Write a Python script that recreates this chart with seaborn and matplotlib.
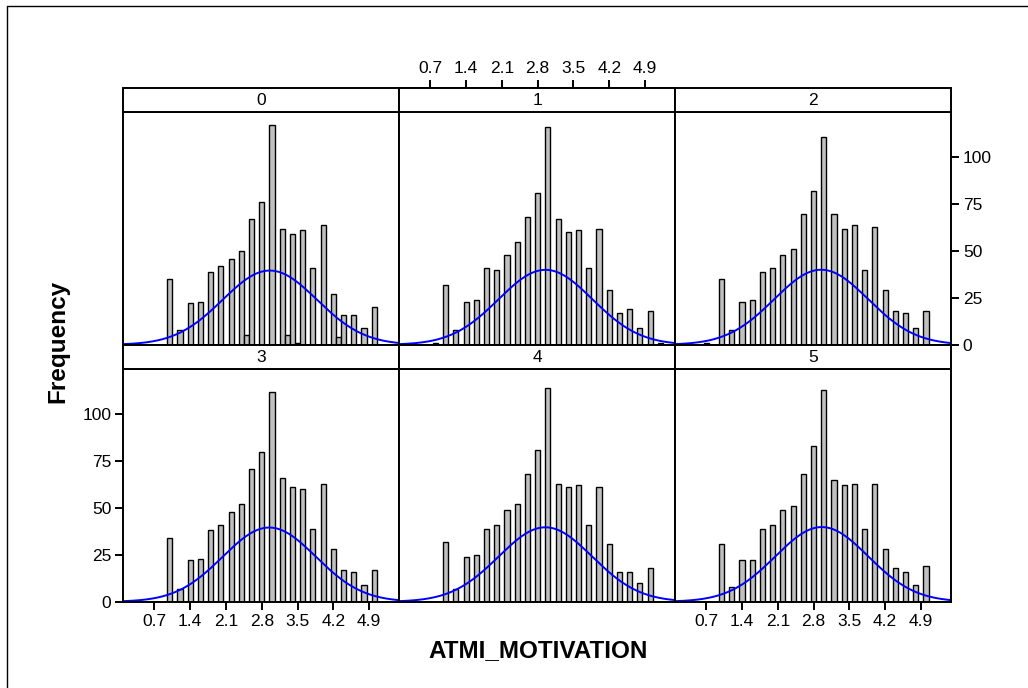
import numpy as np
import pandas as pd
import matplotlib
matplotlib.use("Agg")
import matplotlib.pyplot as plt
from matplotlib.patches import Rectangle
from matplotlib.lines import Line2D
import seaborn as sns

# ---------------- data ----------------
groups = ["0", "1", "2", "3", "4", "5"]

scores = [1.0, 1.2, 1.4, 1.6, 1.8, 2.0, 2.2, 2.4, 2.6, 2.8, 3.0,
          3.2, 3.4, 3.6, 3.8, 4.0, 4.2, 4.4, 4.6, 4.8, 5.0]

freq_g0 = [35, 8, 22, 23, 39, 42, 46, 50, 67, 76, 117, 62, 59, 61, 41, 64, 27, 16, 16, 9, 20]
freq_g1 = [32, 8, 23, 24, 41, 40, 48, 55, 68, 81, 116, 67, 60, 61, 41, 62, 29, 17, 19, 9, 18]
freq_g2 = [35, 8, 23, 24, 39, 41, 48, 51, 70, 82, 111, 70, 62, 64, 40, 63, 29, 18, 17, 9, 18]
freq_g3 = [34, 7, 22, 23, 38, 41, 48, 52, 71, 80, 112, 66, 61, 60, 39, 63, 28, 17, 16, 9, 17]
freq_g4 = [32, 7, 24, 25, 39, 41, 49, 52, 68, 81, 114, 63, 61, 62, 41, 61, 31, 16, 16, 10, 18]
freq_g5 = [31, 8, 22, 22, 39, 41, 49, 51, 68, 83, 113, 65, 62, 63, 39, 63, 28, 18, 16, 9, 19]

# small extra bars seen in some panels
extra_scores_g0 = [2.5, 3.3, 3.5, 4.3]
extra_freq_g0 = [5, 5, 1, 4]
extra_scores_g1 = [0.8, 5.2]
extra_freq_g1 = [1, 1]
extra_scores_g2 = [0.7]
extra_freq_g2 = [1]

x_ticks = [0.7, 1.4, 2.1, 2.8, 3.5, 4.2, 4.9]
x_tick_labels = ["0.7", "1.4", "2.1", "2.8", "3.5", "4.2", "4.9"]
y_ticks = [0, 25, 50, 75, 100]
y_tick_labels = ["0", "25", "50", "75", "100"]
x_label = "ATMI_MOTIVATION"
y_label = "Frequency"

# ---------------- build table ----------------
main_freqs = [freq_g0, freq_g1, freq_g2, freq_g3, freq_g4, freq_g5]
extra_scores = [extra_scores_g0, extra_scores_g1, extra_scores_g2, [], [], []]
extra_freqs = [extra_freq_g0, extra_freq_g1, extra_freq_g2, [], [], []]

rows = []
for grp, f, es, ef in zip(groups, main_freqs, extra_scores, extra_freqs):
    for s, c in zip(scores + es, f + ef):
        rows.append({"group": grp, "score": s, "freq": c})
df = pd.DataFrame(rows)

# ---------------- style ----------------
sns.set_theme(style="white")
plt.rcParams['font.family'] = ['Liberation Sans', 'DejaVu Sans']

BIN_W = 0.1
XLIM = (0.09, 5.49)
YLIM = (0, 124)
LW = 1.4
TICK_FS = 12.5

g = sns.FacetGrid(df, col="group", col_wrap=3, col_order=groups,
                  sharex=False, sharey=False, despine=False,
                  height=3, aspect=1.2)
g.map_dataframe(sns.histplot, x="score", weights="freq", binwidth=BIN_W,
                binrange=(0.05, 5.35),
                color="#c0c0c0", edgecolor="black", linewidth=1.0, alpha=1)

fig = g.figure
fig.set_size_inches(10.28, 6.88)

strip_px = 24.5
axes_h_px = 232.0
strip_frac = strip_px / axes_h_px

for i, grp in enumerate(groups):
    ax = g.axes_dict[grp]
    sub = df[df["group"] == grp]
    n = sub["freq"].sum()
    mean = np.average(sub["score"], weights=sub["freq"])
    sd = np.sqrt(np.average((sub["score"] - mean) ** 2, weights=sub["freq"]))
    xs = np.linspace(XLIM[0], XLIM[1], 300)
    ys = n * BIN_W * np.exp(-0.5 * ((xs - mean) / sd) ** 2) / (sd * np.sqrt(2 * np.pi))
    sns.lineplot(x=xs, y=ys, ax=ax, color="#0000ff", linewidth=1.4)

    ax.set_xlim(*XLIM)
    ax.set_ylim(*YLIM)
    ax.set_xticks(x_ticks)
    ax.set_xticklabels(x_tick_labels)
    ax.set_yticks(y_ticks)
    ax.set_yticklabels(y_tick_labels)
    ax.set_xlabel("")
    ax.set_ylabel("")
    ax.set_title("")
    for sp in ax.spines.values():
        sp.set_color("black")
        sp.set_linewidth(LW)
    ax.tick_params(axis="both", which="both", bottom=False, top=False,
                   left=False, right=False, labelbottom=False, labeltop=False,
                   labelleft=False, labelright=False, length=5.5, width=LW,
                   direction="out", labelsize=TICK_FS, pad=3, colors="black")
    if i == 1:
        ax.tick_params(axis="x", top=True, labeltop=True)
        ax.spines["top"].set_position(("outward", strip_px * 72 / 100))
    if i == 2:
        ax.tick_params(axis="y", right=True, labelright=True)
    if i == 3:
        ax.tick_params(axis="y", left=True, labelleft=True)
        ax.tick_params(axis="x", bottom=True, labelbottom=True)
    if i == 5:
        ax.tick_params(axis="x", bottom=True, labelbottom=True)

    ax.add_patch(Rectangle((0, 1), 1, strip_frac, transform=ax.transAxes,
                           clip_on=False, facecolor="white", edgecolor="black",
                           linewidth=LW, zorder=5))
    ax.text(0.5, 1 + strip_frac / 2, grp, transform=ax.transAxes,
            ha="center", va="center", fontsize=TICK_FS, color="black", zorder=6)

fig.subplots_adjust(left=123.3 / 1028, right=951 / 1028,
                    top=1 - 112.3 / 688, bottom=1 - 601.7 / 688,
                    wspace=0, hspace=strip_frac)

fig.text(538 / 1028, 1 - 651 / 688, x_label, ha="center", va="center",
         fontsize=17.5, fontweight="bold", color="black")
fig.text(58 / 1028, 1 - 341 / 688, y_label, ha="center", va="center",
         rotation=90, fontsize=17.5, fontweight="bold", color="black")

# outer frame (left and top edges visible)
fig.add_artist(Line2D([7 / 1028, 7 / 1028], [0, 1 - 5.5 / 688],
                      color="black", linewidth=1.0, transform=fig.transFigure))
fig.add_artist(Line2D([7 / 1028, 1], [1 - 5.5 / 688, 1 - 5.5 / 688],
                      color="black", linewidth=1.0, transform=fig.transFigure))

fig.savefig("out.png", dpi=100, facecolor="white")
